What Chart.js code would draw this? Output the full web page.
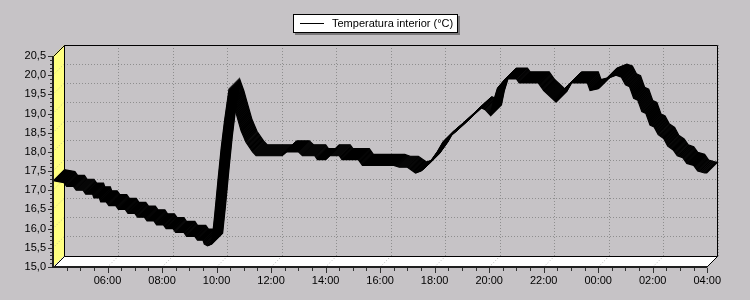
<!DOCTYPE html>
<html>
<head>
<meta charset="utf-8">
<script src="https://cdn.jsdelivr.net/npm/chart.js@4"></script>
<style>
  html, body { margin: 0; padding: 0; background: #c6c3c6; }
  #wrap { width: 750px; height: 300px; }
</style>
</head>
<body>
<div id="wrap"><canvas id="chart" width="750" height="300"></canvas></div>
<script>
const seriesName = 'Temperatura interior (°C)';

// hours since midnight of the first day (24+ = next day)
const hours = [
  4.0, 4.4, 4.5, 4.75, 4.85, 5.1, 5.2, 5.45, 5.5, 5.7,
  5.75, 5.95, 6.05, 6.3, 6.4, 6.65, 6.75, 7.0, 7.1, 7.35,
  7.45, 7.7, 7.8, 8.05, 8.15, 8.4, 8.5, 8.8, 8.9, 9.2,
  9.3, 9.5, 9.55, 9.67, 9.82, 9.93, 10.05, 10.17, 10.29, 10.45,
  10.6, 10.72, 10.9, 11.08, 11.32, 11.45, 12.4, 12.55, 13.0, 13.15,
  13.6, 13.7, 14.0, 14.1, 14.5, 14.6, 15.2, 15.35, 16.5, 16.7,
  17.0, 17.3, 17.5, 17.8, 18.1, 18.3, 18.8, 19.4, 19.7, 19.85,
  20.05, 20.15, 20.3, 20.6, 21.0, 21.1, 21.8, 22.0, 22.45, 22.65,
  23.0, 23.6, 23.7, 24.0, 24.3, 24.65, 24.85, 25.0, 25.15, 25.3,
  25.45, 25.6, 25.75, 25.9, 26.05, 26.2, 26.4, 26.55, 26.75, 26.9,
  27.1, 27.25, 27.5, 27.65, 27.9, 28.0
];
const temps = [
  17.25, 17.2, 17.1, 17.1, 17.0, 17.0, 16.9, 16.9, 16.8, 16.8,
  16.7, 16.7, 16.6, 16.6, 16.5, 16.5, 16.4, 16.4, 16.3, 16.3,
  16.2, 16.2, 16.1, 16.1, 16.0, 16.0, 15.9, 15.9, 15.8, 15.8,
  15.7, 15.7, 15.6, 15.55, 15.6, 16.35, 17.25, 18.1, 18.8, 19.6,
  19.3, 19.0, 18.55, 18.25, 18.0, 17.9, 17.9, 18.0, 18.0, 17.9,
  17.9, 17.8, 17.8, 17.9, 17.9, 17.8, 17.8, 17.65, 17.65, 17.6,
  17.6, 17.45, 17.5, 17.7, 18.0, 18.25, 18.55, 18.95, 19.15, 19.1,
  18.95, 19.3, 19.65, 19.9, 19.9, 19.8, 19.8, 19.6, 19.3, 19.55,
  19.8, 19.8, 19.6, 19.65, 19.9, 20.0, 19.95, 19.75, 19.7, 19.4,
  19.35, 19.05, 19.0, 18.7, 18.65, 18.45, 18.35, 18.15, 18.05, 17.9,
  17.85, 17.7, 17.65, 17.5, 17.45, 17.45
];

const xTickHours = [6, 8, 10, 12, 14, 16, 18, 20, 22, 24, 26, 28];
const xTickLabels = ['06:00', '08:00', '10:00', '12:00', '14:00', '16:00',
  '18:00', '20:00', '22:00', '00:00', '02:00', '04:00'];
const yTickValues = [15, 15.5, 16, 16.5, 17, 17.5, 18, 18.5, 19, 19.5, 20, 20.5];

const DEPTH = 11;
const BG = '#c6c3c6';
const FONT = '"Liberation Sans", Arial, sans-serif';

const fmtTemp = v => v.toFixed(1).replace('.', ',');

const seg = (ctx, x1, y1, x2, y2) => {
  ctx.beginPath();
  ctx.moveTo(x1, y1);
  ctx.lineTo(x2, y2);
  ctx.stroke();
};

// fake TeeChart-style 3D box: side wall, floor, front axes, ribbon
const walls3d = {
  id: 'walls3d',
  beforeDraw(chart) {
    const { ctx, chartArea: a, scales: { x, y } } = chart;
    ctx.save();
    ctx.fillStyle = BG;
    ctx.fillRect(0, 0, chart.width, chart.height);

    ctx.fillStyle = '#ffff80';
    ctx.beginPath();
    ctx.moveTo(a.left, a.top);
    ctx.lineTo(a.left, a.bottom);
    ctx.lineTo(a.left - DEPTH, a.bottom + DEPTH);
    ctx.lineTo(a.left - DEPTH, a.top + DEPTH);
    ctx.closePath();
    ctx.fill();

    ctx.fillStyle = '#ffffff';
    ctx.beginPath();
    ctx.moveTo(a.left, a.bottom);
    ctx.lineTo(a.right, a.bottom);
    ctx.lineTo(a.right - DEPTH, a.bottom + DEPTH);
    ctx.lineTo(a.left - DEPTH, a.bottom + DEPTH);
    ctx.closePath();
    ctx.fill();

    ctx.lineWidth = 1;
    ctx.setLineDash([1, 2]);
    ctx.strokeStyle = '#c8c890';
    y.ticks.forEach(t => {
      const py = y.getPixelForValue(t.value);
      seg(ctx, a.left, py, a.left - DEPTH, py + DEPTH);
    });
    ctx.strokeStyle = '#b8b8b8';
    x.ticks.forEach(t => {
      const px = x.getPixelForValue(t.value);
      seg(ctx, px, a.bottom, px - DEPTH, a.bottom + DEPTH);
    });
    ctx.restore();
  },
  beforeDatasetsDraw(chart) {
    const { ctx, chartArea: a } = chart;
    const l = Math.round(a.left) + 0.5, r = Math.round(a.right) - 0.5;
    const t = Math.round(a.top) + 0.5, b = Math.round(a.bottom) + 0.5;
    ctx.save();
    ctx.strokeStyle = '#000';
    ctx.lineWidth = 1;
    seg(ctx, l, t, r, t);
    seg(ctx, r, t, r, b);
    seg(ctx, l, b, r, b);
    seg(ctx, l, t, l, b);
    seg(ctx, l, t, l - DEPTH, t + DEPTH);
    seg(ctx, l, b, l - DEPTH, b + DEPTH);
    seg(ctx, r, b, r - DEPTH, b + DEPTH);
    ctx.restore();
  },
  afterDatasetsDraw(chart) {
    const { ctx } = chart;
    const meta = chart.getDatasetMeta(0);
    const n = 22;
    for (let k = 1; k <= n; k++) {
      ctx.save();
      ctx.translate(-k * DEPTH / n, k * DEPTH / n);
      meta.dataset.draw(ctx, chart.chartArea);
      ctx.restore();
    }
  },
  afterDraw(chart) {
    const { ctx, chartArea: a, scales: { x, y } } = chart;
    const fx = a.left - DEPTH, fb = a.bottom + DEPTH;
    ctx.save();
    // front axes
    ctx.strokeStyle = '#202020';
    ctx.lineWidth = 2;
    seg(ctx, fx, a.top + DEPTH, fx, fb + 1);
    seg(ctx, fx - 1, fb, a.right - DEPTH, fb);

    ctx.lineWidth = 1;
    ctx.strokeStyle = '#303030';
    for (let i = 1; i <= 48; i++) {
      const h = 4 + i / 2;
      const px = Math.round(x.getPixelForValue(h) - DEPTH) + 0.5;
      seg(ctx, px, fb + 1, px, fb + (h % 2 === 0 ? 6 : 4));
    }
    for (let i = 0; i <= 55; i++) {
      const py = Math.round(y.getPixelForValue(15 + i / 10) + DEPTH) + 0.5;
      seg(ctx, fx - 1, py, fx - (i % 5 === 0 ? 5 : 3), py);
    }

    // legend box
    ctx.font = '11px ' + FONT;
    const tw = ctx.measureText(seriesName).width;
    const bw = Math.round(7 + 24 + 8 + tw + 4);
    const bx = Math.round(375 - bw / 2), by = 14, bh = 18;
    ctx.fillStyle = '#7a787a';
    ctx.fillRect(bx + 2, by + 2, bw + 1, bh + 1);
    ctx.fillStyle = '#ffffff';
    ctx.fillRect(bx, by, bw, bh);
    ctx.strokeStyle = '#000';
    ctx.strokeRect(bx + 0.5, by + 0.5, bw, bh);
    seg(ctx, bx + 7, by + 9.5, bx + 31, by + 9.5);
    ctx.fillStyle = '#000';
    ctx.textBaseline = 'middle';
    ctx.textAlign = 'left';
    ctx.fillText(seriesName, bx + 39, by + 10);
    ctx.restore();
  }
};

Chart.defaults.font.family = FONT;
Chart.defaults.font.size = 11;
Chart.defaults.color = '#000';

new Chart(document.getElementById('chart'), {
  type: 'line',
  data: {
    datasets: [{
      label: seriesName,
      data: hours.map((h, i) => ({ x: h, y: temps[i] })),
      borderColor: '#000',
      borderWidth: 1.2,
      pointRadius: 0,
      tension: 0,
      fill: false
    }]
  },
  options: {
    responsive: false,
    animation: false,
    events: [],
    layout: { padding: { top: 45, right: 21, left: 0, bottom: 0 } },
    plugins: { legend: { display: false }, tooltip: { enabled: false } },
    scales: {
      x: {
        type: 'linear',
        min: 4,
        max: 28,
        afterBuildTicks: s => { s.ticks = xTickHours.map(v => ({ value: v })); },
        afterFit: s => { s.height = 44; },
        grid: { color: '#8e8e8e', drawTicks: false },
        border: { display: false, dash: [1, 2] },
        ticks: {
          padding: 18,
          labelOffset: -DEPTH,
          autoSkip: false,
          maxRotation: 0,
          callback: v => xTickLabels[xTickHours.indexOf(v)]
        }
      },
      y: {
        min: 15,
        max: 20.5,
        afterBuildTicks: s => { s.ticks = yTickValues.map(v => ({ value: v })); },
        afterFit: s => { s.width = 64; },
        grid: { color: '#8e8e8e', drawTicks: false },
        border: { display: false, dash: [1, 2] },
        ticks: {
          padding: 18,
          labelOffset: DEPTH,
          callback: v => fmtTemp(v)
        }
      }
    }
  },
  plugins: [walls3d]
});
</script>
</body>
</html>
